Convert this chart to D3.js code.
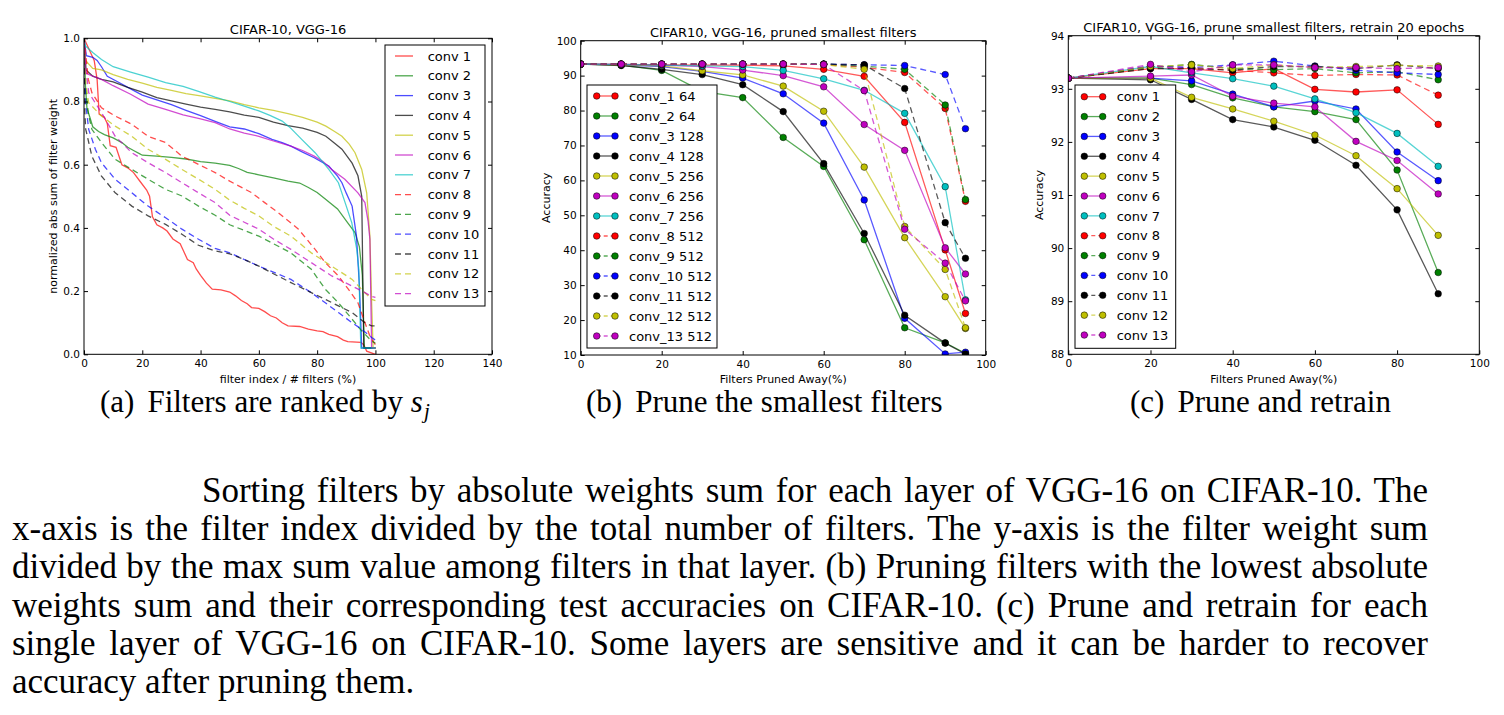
<!DOCTYPE html>
<html>
<head>
<meta charset="utf-8">
<script src="https://cdnjs.cloudflare.com/ajax/libs/d3/7.8.5/d3.min.js"></script>
<style>
  body { margin: 0; background: #fff; }
  svg { display: block; font-family: "DejaVu Sans", sans-serif; }
</style>
</head>
<body>
<script>
// ---- data ----

// (a) normalized abs sum of filter weight vs filter index / # filters (%)
const rankLabels = ["conv 1", "conv 2", "conv 3", "conv 4", "conv 5", "conv 6", "conv 7",
                    "conv 8", "conv 9", "conv 10", "conv 11", "conv 12", "conv 13"];
const rankConv1 = [[0,1.0],[2,0.96],[3.5,0.93],[4.5,0.87],[5.2,0.76],[7,0.75],[8,0.73],[9,0.66],[11,0.655],[13,0.6],[15,0.59],[17,0.575],[19,0.55],[21.5,0.52],[22.5,0.5],[23.5,0.435],[25,0.41],[27,0.4],[28.5,0.39],[30.5,0.365],[33,0.35],[34,0.33],[35.5,0.3],[37.5,0.29],[38.5,0.27],[40,0.25],[42,0.225],[44,0.206],[47,0.204],[50,0.197],[52,0.185],[54,0.17],[56,0.16],[57.5,0.148],[60,0.145],[62,0.135],[64,0.122],[66,0.115],[68,0.1],[70,0.09],[74,0.088],[77,0.08],[80,0.074],[82,0.072],[84,0.063],[87,0.056],[89,0.045],[90.5,0.04],[95,0.038],[96,0.03],[97,0.01],[100,0.0]];
const rankConv2 = [[0,1.0],[0.5,0.85],[1,0.78],[2,0.75],[3,0.72],[5,0.705],[7,0.695],[10,0.685],[13,0.67],[15,0.655],[17,0.645],[19,0.635],[20,0.63],[25,0.627],[30,0.623],[35,0.618],[40,0.61],[45,0.605],[50,0.598],[53,0.588],[56,0.576],[60,0.568],[65,0.558],[70,0.548],[74,0.542],[77,0.528],[80,0.512],[83,0.49],[87,0.46],[90.5,0.416],[93,0.385],[94.5,0.34],[95.5,0.25],[96.2,0.02],[100,0.02]];
const rankConv3 = [[0,1.0],[0.8,0.945],[3,0.94],[4.5,0.93],[6,0.91],[8,0.88],[12,0.86],[16,0.84],[20,0.82],[25,0.805],[30,0.79],[35,0.772],[40,0.755],[45,0.737],[50,0.72],[55,0.713],[60,0.698],[64.5,0.68],[68,0.67],[71,0.659],[75,0.64],[79,0.622],[84,0.596],[87,0.564],[88.5,0.543],[90,0.51],[92,0.469],[93.5,0.374],[94.5,0.216],[95.3,0.02],[100,0.02]];
const rankConv4 = [[0,1.0],[0.7,0.9],[3,0.88],[6,0.87],[10,0.862],[15,0.845],[20,0.83],[25,0.812],[30,0.802],[35,0.792],[40,0.782],[45,0.775],[50,0.767],[55,0.757],[60,0.75],[65,0.735],[70,0.724],[75,0.716],[80,0.702],[83,0.69],[86,0.668],[88.5,0.649],[92,0.605],[94,0.565],[95.3,0.5],[96,0.02],[100,0.02]];
const rankConv5 = [[0,1.0],[0.5,0.93],[3,0.905],[6,0.9],[10,0.885],[15,0.87],[20,0.858],[25,0.845],[30,0.835],[35,0.825],[40,0.818],[45,0.81],[50,0.802],[55,0.79],[60,0.78],[65,0.772],[70,0.762],[75,0.75],[80,0.735],[83,0.722],[86,0.705],[88.5,0.69],[91,0.665],[93,0.638],[95.3,0.585],[97,0.511],[98.1,0.374],[98.7,0.163],[99.2,0.02],[100,0.02]];
const rankConv6 = [[0,1.0],[0.5,0.89],[3,0.88],[6,0.87],[10,0.85],[16,0.823],[22,0.792],[28,0.775],[34,0.758],[40,0.745],[45,0.733],[50,0.713],[55,0.7],[60,0.69],[65,0.675],[71,0.659],[75,0.645],[79,0.627],[82,0.61],[85,0.585],[89.5,0.554],[94,0.511],[96.4,0.48],[97.5,0.42],[98.1,0.364],[98.7,0.02],[100,0.02]];
const rankConv7 = [[0,1.0],[0.5,0.976],[3,0.955],[6,0.933],[10,0.91],[16,0.893],[22,0.877],[28,0.86],[34,0.848],[39,0.833],[45,0.814],[50,0.8],[55,0.785],[60,0.77],[64,0.755],[68,0.738],[71,0.715],[74.7,0.68],[79.3,0.638],[84,0.585],[87.3,0.543],[89.6,0.48],[91.9,0.416],[93.6,0.332],[94.3,0.269],[95,0.02],[100,0.02]];
const rankConv8 = [[0,1.0],[1.5,0.87],[2.7,0.828],[6,0.78],[10.7,0.754],[16.4,0.728],[22,0.69],[28,0.67],[33.6,0.627],[39.3,0.601],[45,0.575],[50,0.548],[57.6,0.511],[62,0.48],[66.7,0.448],[73.6,0.396],[79.3,0.332],[82.8,0.29],[87.3,0.248],[90.7,0.206],[94,0.163],[96.4,0.1],[98,0.06],[100,0.03]];
const rankConv9 = [[0,1.0],[0.5,0.85],[1.5,0.76],[2.7,0.712],[6,0.67],[10.7,0.617],[16.4,0.585],[22,0.554],[28,0.522],[33.6,0.501],[39.3,0.469],[45,0.44],[50,0.41],[55,0.392],[60,0.374],[65,0.35],[71,0.321],[78,0.269],[82.8,0.206],[87.3,0.163],[92,0.111],[95.3,0.074],[98.7,0.042],[100,0.035]];
const rankConv10 = [[0,1.0],[0.5,0.8],[1.6,0.712],[3.9,0.649],[6,0.606],[10.7,0.554],[16.4,0.511],[22,0.469],[28,0.432],[33.6,0.396],[39.3,0.364],[45,0.335],[50,0.321],[55,0.3],[60,0.279],[65,0.26],[71,0.237],[78,0.195],[82.8,0.163],[87.3,0.132],[92,0.1],[95.3,0.079],[98.7,0.053],[100,0.045]];
const rankConv11 = [[0,1.0],[0.3,0.76],[0.6,0.712],[2.7,0.627],[6,0.564],[10.7,0.511],[16.4,0.469],[22,0.438],[28,0.411],[33.6,0.38],[39.3,0.345],[45,0.327],[50,0.318],[55,0.3],[60,0.279],[65,0.255],[71,0.227],[78,0.195],[82.8,0.174],[87.3,0.153],[92,0.132],[96.4,0.1],[98.7,0.09],[100,0.09]];
const rankConv12 = [[0,1.0],[0.7,0.85],[1.6,0.796],[6,0.754],[10.7,0.722],[16.4,0.69],[22,0.649],[28,0.617],[33.6,0.585],[39.3,0.554],[45,0.522],[50,0.488],[55,0.462],[60,0.438],[65,0.405],[71,0.374],[78,0.321],[85,0.279],[92,0.237],[96.4,0.195],[98.7,0.174],[100,0.17]];
const rankConv13 = [[0,1.0],[0.7,0.9],[1.6,0.828],[6,0.765],[10.7,0.69],[16.4,0.638],[22,0.606],[28,0.575],[33.6,0.543],[39.3,0.511],[45,0.48],[50,0.44],[55,0.418],[60,0.396],[65,0.365],[71,0.332],[78,0.29],[85,0.248],[92,0.216],[96.4,0.195],[98.7,0.183],[100,0.18]];
const rankSeries = [rankConv1, rankConv2, rankConv3, rankConv4, rankConv5, rankConv6, rankConv7,
                    rankConv8, rankConv9, rankConv10, rankConv11, rankConv12, rankConv13];

// (b) accuracy after pruning the smallest filters (no retraining)
const prunedX = [0, 10, 20, 30, 40, 50, 60, 70, 80, 90, 95];
const prunedLabels = ["conv_1 64", "conv_2 64", "conv_3 128", "conv_4 128", "conv_5 256", "conv_6 256",
                      "conv_7 256", "conv_8 512", "conv_9 512", "conv_10 512", "conv_11 512",
                      "conv_12 512", "conv_13 512"];
const prunedAcc = [
  [93.3, 93.2, 93.1, 93.0, 93.0, 92.8, 91.8, 89.8, 76.6, 40.1, 21.9],
  [93.3, 93.0, 91.5, 85.5, 83.7, 72.3, 64.0, 43.0, 17.8, 13.5, 10.5],
  [93.3, 93.1, 92.6, 91.2, 89.3, 84.8, 76.4, 54.4, 20.5, 10.3, 10.8],
  [93.3, 92.9, 91.8, 90.3, 87.4, 79.7, 64.8, 44.8, 21.4, 13.4, 10.3],
  [93.3, 93.1, 92.8, 91.4, 90.2, 87.0, 79.8, 63.8, 43.6, 26.7, 17.6],
  [93.3, 93.2, 93.0, 92.6, 91.6, 90.0, 86.8, 76.0, 68.6, 40.7, 33.2],
  [93.3, 93.2, 93.0, 92.8, 92.6, 91.5, 89.1, 85.8, 79.2, 58.2, 25.8],
  [93.3, 93.3, 93.3, 93.3, 93.3, 93.3, 93.2, 92.4, 90.9, 80.6, 54.0],
  [93.3, 93.3, 93.3, 93.3, 93.3, 93.3, 93.3, 92.7, 91.8, 81.6, 54.5],
  [93.3, 93.3, 93.3, 93.3, 93.3, 93.3, 93.3, 93.1, 92.9, 90.3, 74.8],
  [93.3, 93.3, 93.3, 93.3, 93.3, 93.3, 93.3, 93.1, 86.3, 47.9, 37.7],
  [93.3, 93.3, 93.3, 93.3, 93.3, 93.3, 93.2, 91.8, 46.8, 34.5, 17.8],
  [93.3, 93.3, 93.3, 93.3, 93.3, 93.3, 93.2, 85.7, 46.0, 36.3, 25.5]
];

// (c) accuracy after pruning and retraining 20 epochs
const retrainX = [0, 20, 30, 40, 50, 60, 70, 80, 90];
const retrainLabels = rankLabels;
const retrainAcc = [
  [93.2, 93.38, 93.38, 93.30, 93.38, 92.99, 92.94, 92.98, 92.33],
  [93.2, 93.20, 93.08, 92.83, 92.66, 92.57, 92.42, 91.47, 89.54],
  [93.2, 93.20, 93.15, 92.90, 92.66, 92.77, 92.62, 91.81, 91.27],
  [93.2, 93.17, 92.80, 92.42, 92.28, 92.03, 91.56, 90.72, 89.14],
  [93.2, 93.20, 92.84, 92.62, 92.39, 92.13, 91.74, 91.12, 90.24],
  [93.2, 93.24, 93.26, 92.86, 92.73, 92.66, 92.01, 91.65, 91.02],
  [93.2, 93.42, 93.30, 93.19, 93.05, 92.81, 92.55, 92.16, 91.54],
  [93.2, 93.42, 93.40, 93.35, 93.30, 93.25, 93.27, 93.26, 92.88],
  [93.2, 93.40, 93.46, 93.38, 93.36, 93.38, 93.30, 93.32, 93.17],
  [93.2, 93.43, 93.40, 93.45, 93.52, 93.43, 93.35, 93.30, 93.27],
  [93.2, 93.38, 93.38, 93.35, 93.42, 93.42, 93.38, 93.45, 93.38],
  [93.2, 93.42, 93.45, 93.38, 93.45, 93.40, 93.42, 93.44, 93.43],
  [93.2, 93.46, 93.32, 93.45, 93.45, 93.40, 93.40, 93.38, 93.40]
];

// tick values
const rankXTicks = [0, 20, 40, 60, 80, 100, 120, 140];
const rankYTicks = [0, 0.2, 0.4, 0.6, 0.8, 1.0];
const prunedXTicks = [0, 20, 40, 60, 80, 100];
const prunedYTicks = [10, 20, 30, 40, 50, 60, 70, 80, 90, 100];
const retrainXTicks = [0, 20, 40, 60, 80, 100];
const retrainYTicks = [88, 89, 90, 91, 92, 93, 94];

// caption text
const subCaptions = ["(a)", "(b)", "(c)"];
const subCaptionText = ["Filters are ranked by ", "Prune the smallest filters", "Prune and retrain"];
const captionLines = [
  "Sorting filters by absolute weights sum for each layer of VGG-16 on CIFAR-10. The",
  "x-axis is the filter index divided by the total number of filters. The y-axis is the filter weight sum",
  "divided by the max sum value among filters in that layer. (b) Pruning filters with the lowest absolute",
  "weights sum and their corresponding test accuracies on CIFAR-10. (c) Prune and retrain for each",
  "single layer of VGG-16 on CIFAR-10. Some layers are sensitive and it can be harder to recover",
  "accuracy after pruning them."
];

// ---- drawing ----
const width = 1504, height = 715;
const colors = ["#ff0000", "#008000", "#0000ff", "#000000", "#bfbf00", "#bf00bf", "#00bfbf"];
const color = i => colors[i % 7];

const svg = d3.select("body").append("svg")
              .attr("width", width)
              .attr("height", height);

function axes(g, x, y, xTicks, yTicks, yFmt) {
    const [xa, xb] = x.range(), [ya, yb] = y.range();
    const clean = sel => {
        sel.attr("font-family", "DejaVu Sans").attr("font-size", 10.5);
        sel.select(".domain").remove();
        sel.selectAll("line").attr("stroke", "#000");
        sel.selectAll("text").attr("fill", "#000");
    };
    g.append("g").attr("transform", `translate(0,${ya})`)
     .call(d3.axisBottom(x).tickValues(xTicks).tickSizeInner(-4).tickSizeOuter(0).tickPadding(5.5))
     .call(clean);
    g.append("g").attr("transform", `translate(0,${yb})`)
     .call(d3.axisTop(x).tickValues(xTicks).tickSizeInner(-4).tickSizeOuter(0).tickFormat(""))
     .call(clean);
    g.append("g").attr("transform", `translate(${xa},0)`)
     .call(d3.axisLeft(y).tickValues(yTicks).tickSizeInner(-4).tickSizeOuter(0).tickPadding(4).tickFormat(yFmt))
     .call(clean);
    g.append("g").attr("transform", `translate(${xb},0)`)
     .call(d3.axisRight(y).tickValues(yTicks).tickSizeInner(-4).tickSizeOuter(0).tickFormat(""))
     .call(clean);
    g.append("rect")
     .attr("x", xa).attr("y", yb)
     .attr("width", xb - xa).attr("height", ya - yb)
     .attr("fill", "none").attr("stroke", "#000").attr("stroke-width", 1);
}

function labels(g, x, y, title, titleY, xLabel, yLabel, yLabelX) {
    const [xa, xb] = x.range(), [ya, yb] = y.range();
    g.append("text").attr("x", (xa + xb) / 2).attr("y", titleY)
     .attr("text-anchor", "middle").attr("font-size", 13).text(title);
    g.append("text").attr("x", (xa + xb) / 2).attr("y", 383)
     .attr("text-anchor", "middle").attr("font-size", 11).text(xLabel);
    g.append("text").attr("transform", `translate(${yLabelX},${(ya + yb) / 2}) rotate(-90)`)
     .attr("dy", "0.35em").attr("text-anchor", "middle").attr("font-size", 11).text(yLabel);
}

function clip(id, x, y) {
    const [xa, xb] = x.range(), [ya, yb] = y.range();
    svg.append("clipPath").attr("id", id).append("rect")
       .attr("x", xa).attr("y", yb).attr("width", xb - xa).attr("height", ya - yb);
    return svg.append("g").attr("clip-path", `url(#${id})`);
}

// ---------- (a) ----------
{
    const x = d3.scaleLinear().domain([0, 140]).range([84, 492]);
    const y = d3.scaleLinear().domain([0, 1]).range([354.3, 38.3]);
    const plot = clip("clipA", x, y);
    const g = svg.append("g");
    const line = d3.line().x(d => x(d[0])).y(d => y(d[1]));
    rankSeries.forEach((s, i) => {
        plot.append("path").attr("d", line(s))
            .attr("fill", "none").attr("stroke", color(i)).attr("stroke-opacity", 0.7)
            .attr("stroke-width", 1.3)
            .attr("stroke-dasharray", i >= 7 ? "6,4" : null);
    });
    axes(g, x, y, rankXTicks, rankYTicks, d3.format(".1f"));
    labels(g, x, y, "CIFAR-10, VGG-16", 34, "filter index / # filters (%)",
           "normalized abs sum of filter weight", 52.7);

    const lg = g.append("g");
    lg.append("rect").attr("x", 385).attr("y", 45).attr("width", 100).attr("height", 261)
      .attr("fill", "#fff").attr("stroke", "#000").attr("stroke-width", 1);
    rankLabels.forEach((lab, i) => {
        const ry = 56 + i * 19.8;
        lg.append("line").attr("x1", 395).attr("x2", 413).attr("y1", ry).attr("y2", ry)
          .attr("stroke", color(i)).attr("stroke-opacity", 0.7).attr("stroke-width", 1.3)
          .attr("stroke-dasharray", i >= 7 ? "6,4" : null);
        lg.append("text").attr("x", 427.7).attr("y", ry).attr("dy", "0.36em")
          .attr("font-size", 13).text(lab);
    });
}

// shared marker/line plot for (b) and (c)
function markerPlot(plot, x, y, xs, rows) {
    rows.forEach((row, i) => {
        const pts = xs.map((v, j) => [v, row[j]]);
        plot.append("path")
            .attr("d", d3.line().x(d => x(d[0])).y(d => y(d[1]))(pts))
            .attr("fill", "none").attr("stroke", color(i)).attr("stroke-opacity", 0.65)
            .attr("stroke-width", 1.3)
            .attr("stroke-dasharray", i >= 7 ? "6,4" : null);
        plot.selectAll(null).data(pts).enter().append("circle")
            .attr("cx", d => x(d[0])).attr("cy", d => y(d[1])).attr("r", 3.3)
            .attr("fill", color(i)).attr("stroke", "#000").attr("stroke-width", 0.5);
    });
}

function markerLegend(g, labs, bx, by, bw, bh, m1, m2, tx, r0, step) {
    g.append("rect").attr("x", bx).attr("y", by).attr("width", bw).attr("height", bh)
     .attr("fill", "#fff").attr("stroke", "#000").attr("stroke-width", 1);
    labs.forEach((lab, i) => {
        const ry = r0 + i * step;
        g.append("line").attr("x1", m1).attr("x2", m2).attr("y1", ry).attr("y2", ry)
         .attr("stroke", color(i)).attr("stroke-opacity", 0.65).attr("stroke-width", 1.3)
         .attr("stroke-dasharray", i >= 7 ? "4,3" : null);
        [m1, m2].forEach(cx => g.append("circle").attr("cx", cx).attr("cy", ry).attr("r", 3.3)
         .attr("fill", color(i)).attr("stroke", "#000").attr("stroke-width", 0.5));
        g.append("text").attr("x", tx).attr("y", ry).attr("dy", "0.36em")
         .attr("font-size", 13).text(lab);
    });
}

// ---------- (b) ----------
{
    const x = d3.scaleLinear().domain([0, 100]).range([580.7, 985.7]);
    const y = d3.scaleLinear().domain([10, 100]).range([355, 40.7]);
    const plot = clip("clipB", x, y);
    const g = svg.append("g");
    markerPlot(plot, x, y, prunedX, prunedAcc);
    axes(g, x, y, prunedXTicks, prunedYTicks, d3.format("d"));
    labels(g, x, y, "CIFAR10, VGG-16, pruned smallest filters", 36.5, "Filters Pruned Away(%)",
           "Accuracy", 546);
    markerLegend(g.append("g"), prunedLabels, 587, 85, 130, 263, 596.7, 615, 629, 96, 20);
}

// ---------- (c) ----------
{
    const x = d3.scaleLinear().domain([0, 100]).range([1068.3, 1479.3]);
    const y = d3.scaleLinear().domain([88, 94]).range([354.3, 35.7]);
    const plot = clip("clipC", x, y);
    const g = svg.append("g");
    markerPlot(plot, x, y, retrainX, retrainAcc);
    axes(g, x, y, retrainXTicks, retrainYTicks, d3.format("d"));
    labels(g, x, y, "CIFAR10, VGG-16,  prune smallest filters, retrain 20 epochs", 31.5,
           "Filters Pruned Away(%)", "Accuracy", 1039.3);
    markerLegend(g.append("g"), retrainLabels, 1075, 85, 100.7, 263.3, 1084.3, 1102.7, 1116.7, 96.7, 19.86);
}

// ---------- captions ----------
const serif = "'Liberation Serif', 'Times New Roman', serif";
const subX = [100, 586, 1130];
subCaptions.forEach((tag, i) => {
    const t = svg.append("text").attr("x", subX[i]).attr("y", 412)
                 .attr("font-family", serif).attr("font-size", 31);
    t.append("tspan").text(tag);
    t.append("tspan").attr("dx", 13).text(subCaptionText[i]);
    if (i === 0) {
        t.append("tspan").attr("font-style", "italic").text("s");
        t.append("tspan").attr("font-style", "italic").attr("font-size", 21).attr("dx", 1)
         .attr("dy", 6).text("j");
    }
});

const lineX = [202, 12, 12, 12, 12, 12];
const lineEnd = 1428;
captionLines.forEach((s, i) => {
    const t = svg.append("text").attr("x", lineX[i]).attr("y", 501.7 + i * 38.3)
                 .attr("font-family", serif).attr("font-size", 35).text(s);
    if (i < captionLines.length - 1) {
        const natural = t.node().getComputedTextLength();
        const gaps = (s.match(/ /g) || []).length;
        t.attr("word-spacing", (lineEnd - lineX[i] - natural) / gaps);
    }
});
</script>
</body>
</html>
